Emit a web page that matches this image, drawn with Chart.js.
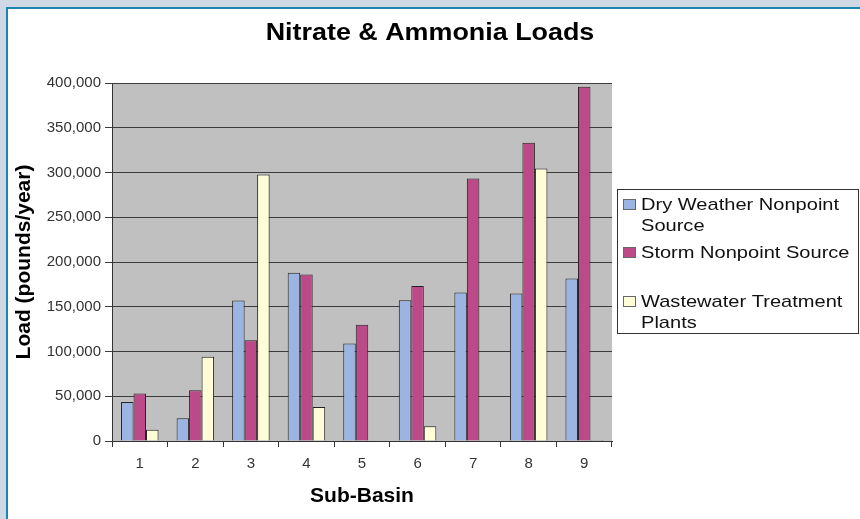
<!DOCTYPE html>
<html>
<head>
<meta charset="utf-8">
<script src="https://cdn.jsdelivr.net/npm/chart.js@4"></script>
<style>
  body { margin: 0; background: #d0d8e5; }
  canvas { display: block; }
</style>
</head>
<body>
<canvas id="chart" width="860" height="519"></canvas>
<script>
const subBasins = ['1', '2', '3', '4', '5', '6', '7', '8', '9'];
const dryWeather = [43600, 25400, 157000, 188000, 109000, 157300, 166000, 164800, 181600];
const storm = [53000, 56700, 112600, 186000, 130000, 173300, 293400, 333200, 395900];
const wastewater = [12700, 94000, 297900, 38000, 0, 16400, 0, 304600, 1000];
const seriesNames = [
  ['Dry Weather Nonpoint', 'Source'],
  ['Storm Nonpoint Source'],
  ['Wastewater Treatment', 'Plants']
];
const seriesColors = ['#9cb4e2', '#bd4a88', '#fffcd8'];

const FONT = "'Liberation Sans', Arial, sans-serif";

// page frame, white panel and the grey plot area
const backdrop = {
  id: 'backdrop',
  beforeDraw(chart) {
    const ctx = chart.ctx;
    const a = chart.chartArea;
    ctx.save();
    ctx.fillStyle = '#d0d8e5';
    ctx.fillRect(0, 0, chart.width, chart.height);
    ctx.fillStyle = '#1b86ad';
    ctx.fillRect(6, 7, chart.width - 6, chart.height - 7);
    ctx.fillStyle = '#ffffff';
    ctx.fillRect(8, 9, chart.width - 8, chart.height - 9);
    ctx.fillStyle = '#c0c0c0';
    ctx.fillRect(a.left, a.top, a.right - a.left, a.bottom - a.top);
    ctx.restore();
  }
};

const heading = {
  id: 'heading',
  afterDraw(chart) {
    const ctx = chart.ctx;
    ctx.save();
    ctx.translate(430, 33);
    ctx.scale(1.12, 1);
    ctx.font = 'bold 24px ' + FONT;
    ctx.fillStyle = '#000';
    ctx.textAlign = 'center';
    ctx.textBaseline = 'middle';
    ctx.fillText('Nitrate & Ammonia Loads', 0, 0);
    ctx.restore();
  }
};

// boxed legend on the right with wrapped labels
const sideLegend = {
  id: 'sideLegend',
  afterDraw(chart) {
    const ctx = chart.ctx;
    const box = { x: 617.5, y: 189.5, w: 241, h: 144 };
    const rows = [[205, 226], [253], [302, 323]];
    const swatchY = [199, 247, 296];
    ctx.save();
    ctx.fillStyle = '#fff';
    ctx.fillRect(box.x, box.y, box.w, box.h);
    ctx.strokeStyle = '#333';
    ctx.lineWidth = 1;
    ctx.strokeRect(box.x, box.y, box.w, box.h);
    seriesNames.forEach((lines, i) => {
      ctx.fillStyle = seriesColors[i];
      ctx.fillRect(623, swatchY[i], 13, 11);
      ctx.strokeStyle = '#666';
      ctx.strokeRect(623.5, swatchY[i] + 0.5, 12, 10);
      ctx.fillStyle = '#111';
      lines.forEach((t, j) => {
        ctx.save();
        ctx.translate(641, rows[i][j]);
        ctx.scale(1.18, 1);
        ctx.font = '17px ' + FONT;
        ctx.textBaseline = 'middle';
        ctx.fillText(t, 0, 0);
        ctx.restore();
      });
    });
    ctx.restore();
  }
};

new Chart(document.getElementById('chart'), {
  type: 'bar',
  data: {
    labels: subBasins,
    datasets: [dryWeather, storm, wastewater].map((d, i) => ({
      label: seriesNames[i].join(' '),
      data: d,
      backgroundColor: seriesColors[i],
      borderColor: '#222',
      borderWidth: 1,
      categoryPercentage: 0.675,
      barPercentage: 1
    }))
  },
  options: {
    responsive: false,
    animation: false,
    layout: { padding: { left: 12, right: 248, top: 83, bottom: 10 } },
    plugins: {
      legend: { display: false },
      title: { display: false },
      tooltip: { enabled: false }
    },
    scales: {
      x: {
        afterFit(scale) { scale.height = 68; },
        grid: { drawOnChartArea: false, tickLength: 6, color: '#333', offset: true },
        border: { color: '#333' },
        ticks: { font: { family: FONT, size: 15 }, color: '#333', padding: 8 },
        title: {
          display: true,
          text: 'Sub-Basin',
          font: { family: FONT, size: 21, weight: 'bold' },
          color: '#000',
          padding: { top: 4, bottom: 0 }
        }
      },
      y: {
        min: 0,
        max: 400000,
        afterFit(scale) { scale.width = 100; },
        grid: { color: '#3c3c3c', tickLength: 7 },
        border: { color: '#333' },
        ticks: {
          stepSize: 50000,
          font: { family: FONT, size: 15 },
          color: '#333',
          padding: 4,
          callback: (v) => v.toLocaleString('en-US')
        },
        title: {
          display: true,
          text: 'Load (pounds/year)',
          font: { family: FONT, size: 21, weight: 'bold' },
          color: '#000',
          padding: { top: 0, bottom: 0 }
        }
      }
    }
  },
  plugins: [backdrop, heading, sideLegend]
});
</script>
</body>
</html>
